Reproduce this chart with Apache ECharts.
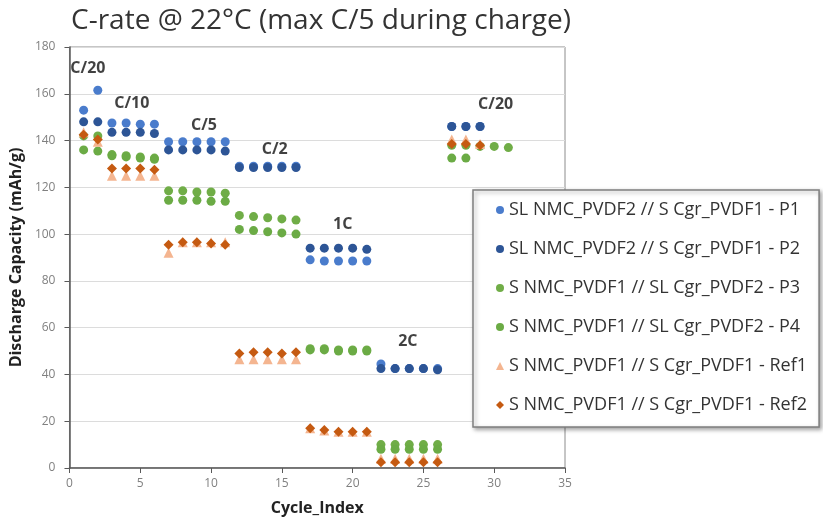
<!DOCTYPE html>
<html>
<head>
<meta charset="utf-8">
<script src="https://cdn.jsdelivr.net/npm/echarts@6/dist/echarts.min.js"></script>
<style>
  html, body { margin: 0; padding: 0; background: #fff; }
  #main { width: 823px; height: 525px; }
</style>
</head>
<body>
<div id="main"></div>
<script>
// cycle numbers, one per measured point
var cycles = [1, 2, 3, 4, 5, 6, 7, 8, 9, 10, 11, 12, 13, 14, 15, 16,
              17, 18, 19, 20, 21, 22, 23, 24, 25, 26, 27, 28, 29, 30, 31];

// discharge capacities (mAh/g), null = no point
var p1 = [153, 161.5, 147.5, 147.5, 147, 147, 139.5, 139.5, 139.5, 139.5, 139.5,
          129, 129, 129, 129, 129, 89, 88.5, 88.5, 88.5, 88.5,
          44.5, 42.5, 42.5, 42.5, 42.5, 146, 146, 146, null, null];
var p2 = [148, 148, 143.5, 143.5, 143.5, 143, 136, 136, 136, 136, 135.5,
          128.5, 128.5, 128.5, 128.5, 128.5, 94, 94, 94, 94, 93.5,
          42.5, 42.5, 42.5, 42.5, 42, 146, 146, 146, null, null];
var p3 = [142, 142, 134, 133.5, 133, 132.5, 118.5, 118.5, 118, 118, 117.5,
          108, 107.5, 107, 106.5, 106, 51, 51, 50.5, 50.5, 50.5,
          10, 10, 10, 10, 10, 138, 138, 137.5, 137.5, 137];
var p4 = [136, 135.5, 133.5, 133, 132.5, 132, 114.5, 114.5, 114.5, 114, 114,
          102, 101.5, 101, 100.5, 100, 50.5, 50.5, 50, 50, 50,
          8, 8, 8, 8, 8, 132.5, 132.5, null, null, null];
var ref1 = [143.5, 139.5, 125, 125, 125, 125, 92, 96.5, 96.5, 96.5, 96.5,
            46.5, 46.5, 46.5, 46.5, 46.5, 17, 16, 15.5, 15.5, 15.5,
            4, 4, 4, 4, 4, 140.5, 140.5, 138.5, null, null];
var ref2 = [142.5, 140.5, 128, 128, 128, 127.5, 95.5, 96.5, 96.5, 96, 95.5,
            49, 49.5, 49.5, 49, 49.5, 17, 16.2, 15.5, 15.5, 15.5,
            2.5, 2.5, 2.5, 2.5, 2.5, 138.5, 138.5, 138, null, null];

var names = ['SL NMC_PVDF2 // S Cgr_PVDF1 - P1',
             'SL NMC_PVDF2 // S Cgr_PVDF1 - P2',
             'S NMC_PVDF1 // SL Cgr_PVDF2 - P3',
             'S NMC_PVDF1 // SL Cgr_PVDF2 - P4',
             'S NMC_PVDF1 // S Cgr_PVDF1 - Ref1',
             'S NMC_PVDF1 // S Cgr_PVDF1 - Ref2'];

// C-rate labels: [cycle, capacity, text]
var rateLabels = [[1.3, 171, 'C/20'], [4.4, 156, 'C/10'], [9.5, 146.5, 'C/5'],
                  [14.5, 136, 'C/2'], [19.3, 104, '1C'], [23.9, 54, '2C'],
                  [30.1, 155.5, 'C/20']];

var xTicks = [0, 5, 10, 15, 20, 25, 30, 35];

function pairs(vals) {
  var out = [];
  for (var i = 0; i < cycles.length; i++) {
    if (vals[i] != null) out.push([cycles[i], vals[i]]);
  }
  return out;
}

var font = 'Open Sans';

function dots(name, vals, color, symbol, size) {
  return {
    name: name,
    type: 'scatter',
    data: pairs(vals),
    symbol: symbol,
    symbolSize: size,
    itemStyle: { color: color, opacity: 1 },
    emphasis: { disabled: true }
  };
}

var chart = echarts.init(document.getElementById('main'));

var option = {
  animation: false,
  backgroundColor: '#fff',
  title: {
    text: 'C-rate @ 22°C (max C/5 during charge)',
    left: 66,
    top: 2,
    textStyle: { fontFamily: font, fontSize: 28, fontWeight: 'normal', color: '#333' }
  },
  grid: {
    left: 69, right: 258, top: 47, bottom: 57,
    show: true, borderColor: '#8c8c8c', borderWidth: 1
  },
  legend: {
    data: names,
    orient: 'vertical',
    left: 473,
    top: 190,
    padding: [11, 12, 13, 23],
    itemGap: 21,
    itemWidth: 8,
    itemHeight: 8,
    backgroundColor: '#fff',
    borderColor: '#7f7f7f',
    borderWidth: 1.5,
    shadowColor: 'rgba(0,0,0,0.35)',
    shadowBlur: 4,
    shadowOffsetX: 2,
    shadowOffsetY: 2,
    textStyle: { fontFamily: font, fontSize: 18, lineHeight: 18, color: '#333' }
  },
  xAxis: {
    type: 'value',
    min: 0, max: 35, interval: 5,
    name: 'Cycle_Index',
    nameLocation: 'middle',
    nameGap: 32,
    nameTextStyle: { fontFamily: font, fontSize: 16, fontWeight: 'bold', color: '#222' },
    axisLine: { lineStyle: { color: '#595959', width: 1.5 } },
    axisTick: { show: true, length: 5, lineStyle: { color: '#595959' } },
    axisLabel: { fontFamily: font, fontSize: 12, color: '#808080', margin: 10,
                 formatter: function (v) { return xTicks.indexOf(v) >= 0 ? String(v) : ''; } },
    splitLine: { show: false }
  },
  yAxis: {
    type: 'value',
    min: 0, max: 180, interval: 20,
    name: 'Discharge Capacity (mAh/g)',
    nameLocation: 'middle',
    nameGap: 44,
    nameTextStyle: { fontFamily: font, fontSize: 16, fontWeight: 'bold', color: '#222' },
    axisLine: { show: true, lineStyle: { color: '#595959', width: 1.5 } },
    axisTick: { show: true, length: 5, lineStyle: { color: '#595959' } },
    axisLabel: { fontFamily: font, fontSize: 12, color: '#808080', margin: 14 },
    splitLine: { show: true, lineStyle: { color: '#dcdcdc' } }
  },
  series: [
    dots(names[0], p1, '#4a7ccc', 'circle', 9),
    dots(names[1], p2, '#2d5596', 'circle', 9),
    dots(names[2], p3, '#70ad47', 'circle', 9),
    dots(names[3], p4, '#6bab45', 'circle', 9),
    dots(names[4], ref1, '#f4b590', 'triangle', 10),
    dots(names[5], ref2, '#c55a11', 'diamond', 10),
    {
      name: 'rates',
      type: 'scatter',
      silent: true,
      symbolSize: 0,
      data: rateLabels.map(function (r) { return { value: [r[0], r[1]], name: r[2] }; }),
      label: {
        show: true,
        position: 'inside',
        formatter: function (p) { return p.name; },
        fontFamily: font, fontSize: 16, fontWeight: 'bold', color: '#111'
      }
    }
  ]
};

chart.setOption(option);
</script>
</body>
</html>
